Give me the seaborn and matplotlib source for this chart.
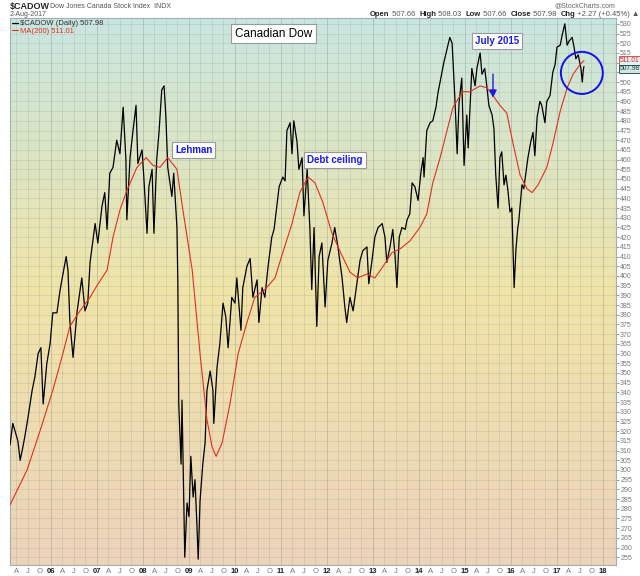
import numpy as np
import pandas as pd
import seaborn as sns
import matplotlib.pyplot as plt
import matplotlib.dates as mdates
from matplotlib.colors import LinearSegmentedColormap
from matplotlib.patches import Ellipse

# $CADOW daily close (decimal year, index level)
price_t = [2005.11, 2005.17, 2005.28, 2005.33, 2005.39, 2005.43, 2005.50, 2005.59, 2005.65, 2005.72,
           2005.78, 2005.83, 2005.91, 2005.98, 2006.04, 2006.13, 2006.20, 2006.33, 2006.37, 2006.41,
           2006.48, 2006.57, 2006.67, 2006.74, 2006.80, 2006.85, 2006.96, 2007.02, 2007.11, 2007.17,
           2007.22, 2007.28, 2007.35, 2007.43, 2007.50, 2007.57, 2007.63, 2007.65, 2007.72, 2007.78,
           2007.85, 2007.89, 2007.98, 2008.02, 2008.09, 2008.13, 2008.20, 2008.24, 2008.30, 2008.35,
           2008.41, 2008.46, 2008.50, 2008.54, 2008.63, 2008.67, 2008.74, 2008.76, 2008.78, 2008.83,
           2008.85, 2008.87, 2008.91, 2008.96, 2009.00, 2009.04, 2009.09, 2009.13, 2009.17, 2009.20,
           2009.24, 2009.30, 2009.35, 2009.39, 2009.46, 2009.52, 2009.54, 2009.61, 2009.67, 2009.74,
           2009.80, 2009.85, 2009.93, 2010.00, 2010.04, 2010.13, 2010.17, 2010.26, 2010.33, 2010.39,
           2010.48, 2010.52, 2010.59, 2010.65, 2010.72, 2010.80, 2010.85, 2010.91, 2010.96, 2011.04,
           2011.09, 2011.13, 2011.20, 2011.24, 2011.28, 2011.35, 2011.39, 2011.46, 2011.50, 2011.57,
           2011.63, 2011.67, 2011.72, 2011.78, 2011.83, 2011.89, 2011.96, 2012.02, 2012.11, 2012.17,
           2012.24, 2012.33, 2012.39, 2012.43, 2012.50, 2012.57, 2012.65, 2012.72, 2012.78, 2012.87,
           2012.91, 2012.98, 2013.04, 2013.11, 2013.20, 2013.26, 2013.30, 2013.37, 2013.43, 2013.48,
           2013.52, 2013.57, 2013.63, 2013.70, 2013.74, 2013.80, 2013.85, 2013.91, 2013.98, 2014.04,
           2014.09, 2014.11, 2014.17, 2014.24, 2014.30, 2014.37, 2014.41, 2014.50, 2014.54, 2014.61,
           2014.67, 2014.72, 2014.76, 2014.78, 2014.83, 2014.87, 2014.93, 2014.98, 2015.04, 2015.07,
           2015.15, 2015.22, 2015.26, 2015.33, 2015.37, 2015.43, 2015.48, 2015.52, 2015.59, 2015.63,
           2015.67, 2015.72, 2015.76, 2015.80, 2015.85, 2015.89, 2015.93, 2015.98, 2016.02, 2016.04,
           2016.07, 2016.11, 2016.15, 2016.17, 2016.24, 2016.28, 2016.33, 2016.37, 2016.43, 2016.48,
           2016.52, 2016.57, 2016.63, 2016.67, 2016.74, 2016.78, 2016.85, 2016.91, 2016.96, 2017.00,
           2017.07, 2017.11, 2017.17, 2017.22, 2017.26, 2017.33, 2017.37, 2017.41, 2017.46, 2017.52,
           2017.55, 2017.57, 2017.585]
price_v = [313, 324, 315, 305, 312, 317, 327, 341, 348, 360,
           363, 334, 355, 365, 381, 381, 393, 410, 403, 377,
           358, 382, 399, 382, 386, 407, 427, 417, 436, 443,
           424, 453, 456, 470, 463, 487, 460, 429, 461, 474,
           488, 458, 465, 451, 422, 446, 455, 422, 460, 474,
           496, 498, 482, 456, 441, 453, 425, 396, 334, 303,
           336, 308, 255, 283, 276, 307, 286, 295, 273, 254,
           284, 303, 314, 341, 351, 341, 324, 353, 365, 386,
           379, 363, 389, 386, 399, 372, 394, 405, 409, 389,
           398, 376, 394, 389, 405, 420, 424, 436, 446, 451,
           449, 475, 479, 463, 480, 469, 455, 461, 431, 455,
           424, 393, 425, 374, 410, 417, 384, 408, 417, 425,
           415, 399, 384, 376, 389, 382, 396, 408, 413, 415,
           396, 408, 420, 425, 427, 420, 407, 415, 424, 410,
           394, 420, 425, 424, 429, 432, 448, 446, 439, 453,
           461, 451, 475, 479, 480, 487, 494, 505, 510, 517,
           523, 520, 501, 492, 463, 489, 502, 457, 483, 466,
           507, 498, 507, 515, 504, 507, 497, 488, 483, 476,
           452, 435, 461, 464, 447, 452, 445, 433, 435, 418,
           394, 414, 425, 428, 447, 445, 454, 461, 469, 474,
           462, 482, 490, 488, 479, 490, 493, 505, 509, 518,
           519, 524, 530, 519, 521, 523, 518, 512, 514, 507,
           500, 506, 507.98]

# 200-day moving average
ma_t = [2005.11, 2005.48, 2005.76, 2006.04, 2006.26, 2006.41, 2006.63, 2006.85, 2007.00, 2007.22,
        2007.35, 2007.50, 2007.65, 2007.87, 2008.07, 2008.22, 2008.37, 2008.54, 2008.74, 2008.87,
        2009.07, 2009.24, 2009.39, 2009.50, 2009.59, 2009.72, 2009.89, 2010.07, 2010.26, 2010.43,
        2010.65, 2010.87, 2011.04, 2011.24, 2011.41, 2011.59, 2011.74, 2011.91, 2012.11, 2012.28,
        2012.50, 2012.67, 2012.87, 2013.04, 2013.22, 2013.41, 2013.59, 2013.80, 2014.02, 2014.17,
        2014.30, 2014.46, 2014.61, 2014.74, 2014.87, 2014.96, 2015.11, 2015.33, 2015.48, 2015.61,
        2015.76, 2015.91, 2016.04, 2016.20, 2016.35, 2016.46, 2016.59, 2016.78, 2016.91, 2017.07,
        2017.22, 2017.35, 2017.50, 2017.585]
ma_v = [282, 300, 320, 341, 360, 374, 382, 389, 395, 403,
        420, 434, 444, 456, 461, 457, 456, 461, 455, 434,
        403, 360, 326, 312, 307, 314, 334, 360, 376, 389,
        393, 399, 412, 427, 443, 451, 448, 438, 422, 413,
        402, 399, 401, 399, 405, 412, 414, 418, 425, 432,
        448, 461, 475, 487, 492, 495, 495, 498, 497, 493,
        488, 484, 469, 452, 445, 443, 447, 456, 468, 485,
        497, 504, 509, 511.01]

notes = ["Lehman", "Debt ceiling", "July 2015"]
note_t = [2008.70, 2011.57, 2015.22]
note_v = [465, 460, 521]


def to_date(y):
    y0 = int(y)
    return pd.Timestamp(y0, 1, 1) + pd.Timedelta(days=(y - y0) * 365.25)


df = pd.DataFrame({"date": [to_date(t) for t in price_t], "close": price_v})
ma = pd.DataFrame({"date": [to_date(t) for t in ma_t], "ma": ma_v})

sns.set_style("white")
plt.rcParams["font.family"] = ["Liberation Sans", "DejaVu Sans"]

fig = plt.figure(figsize=(6.4, 5.76), dpi=100)
ax = fig.add_axes([10 / 640, 1 - 565 / 576, 606 / 640, 547 / 576])

# background gradient teal -> yellow -> peach
cmap = LinearSegmentedColormap.from_list("bg", [(0, "#c9e6e0"), (0.5, "#f0e4a8"), (1, "#ecd3bb")])
grad = np.linspace(0, 1, 256).reshape(-1, 1)
ax.imshow(grad, extent=[0, 1, 0, 1], transform=ax.transAxes, aspect="auto", cmap=cmap, zorder=0)

sns.lineplot(data=df, x="date", y="close", ax=ax, color="black", lw=0.9,
             label="\\$CADOW (Daily) 507.98", zorder=3)
sns.lineplot(data=ma, x="date", y="ma", ax=ax, color="#e03020", lw=0.8,
             label="MA(200) 511.01", zorder=4)

ax.set_xlim(to_date(2005.109), to_date(2018.283))
ax.set_ylim(251, 533)
ax.set_xlabel("")
ax.set_ylabel("")

# quarterly x ticks
qs = pd.date_range("2005-04-01", "2018-01-01", freq="QS")
labels = [d.strftime("%y") if d.month == 1 else {4: "A", 7: "J", 10: "O"}[d.month] for d in qs]
ax.set_xticks(qs)
ax.set_xticklabels(labels)
for d, lab in zip(qs, ax.get_xticklabels()):
    if d.month == 1:
        lab.set_fontweight("bold")
        lab.set_color("#222222")
    else:
        lab.set_color("#777777")
ax.tick_params(axis="x", labelsize=5.5, length=0, pad=2)

# right price scale; 505 and 510 sit under the last-value tags
yt = np.arange(255, 531, 5)
ax.yaxis.tick_right()
ax.set_yticks(yt)
ax.set_yticklabels(["" if v in (505, 510) else str(v) for v in yt])
ax.tick_params(axis="y", labelsize=5, length=2, pad=1, colors="#777777", width=0.5)

for v in yt:
    ax.axhline(v, color="#7a8a80", alpha=0.2, lw=0.6, zorder=1)
for d in qs:
    ax.axvline(d, color="#7a8a80", alpha=0.4 if d.month == 1 else 0.2, lw=0.6, zorder=1)

for s in ax.spines.values():
    s.set_color("#a0b0b0")
    s.set_linewidth(0.8)

leg = ax.legend(loc="upper left", frameon=False, fontsize=5.5, handlelength=0.8,
                handletextpad=0.3, labelspacing=0.05, borderaxespad=0.15, borderpad=0.1)
leg.get_texts()[0].set_color("#333333")
leg.get_texts()[1].set_color("#e03020")

# annotations
ax.text(to_date(2010.0), 525, "Canadian Dow", fontsize=8.5, color="black", va="center", ha="left",
        bbox=dict(boxstyle="square,pad=0.3", fc="white", ec="#999999", lw=0.8), zorder=6)
for txt, t, v in zip(notes, note_t, note_v):
    ax.text(to_date(t), v, txt, fontsize=7, fontweight="bold", color="#1a1aee", va="center", ha="left",
            bbox=dict(boxstyle="square,pad=0.3", fc="white", ec="#999999", lw=0.8), zorder=6)

ax.annotate("", xy=(to_date(2015.61), 490.5), xytext=(to_date(2015.61), 505.5),
            arrowprops=dict(arrowstyle="-|>", color="#1a1aee", lw=1.0, mutation_scale=11), zorder=6)

circ_c = mdates.date2num(to_date(2017.54))
ax.add_patch(Ellipse((circ_c, 504.7), width=333, height=21.7, fill=False, ec="#1010ee", lw=1.4, zorder=6))

# last value tags on the right
ytr = ax.get_yaxis_transform()
ax.text(1.006, 511.1, "511.01", transform=ytr, fontsize=4.8, color="#cc3030", va="center", ha="left",
        bbox=dict(boxstyle="square,pad=0.08", fc="#e4f2ef", ec="#e05050", lw=0.7), clip_on=False)
ax.text(1.006, 506.8, "507.98", transform=ytr, fontsize=4.8, color="#224444", va="center", ha="left",
        bbox=dict(boxstyle="square,pad=0.08", fc="#cfe6e2", ec="#335555", lw=0.7), clip_on=False)

# header
fig.text(10 / 640, 1 - 7 / 576, "\\$CADOW", fontsize=6.5, fontweight="bold", va="center", ha="left")
fig.text(50 / 640, 1 - 7 / 576, "Dow Jones Canada Stock Index  INDX", fontsize=5, color="#555555",
         va="center", ha="left")
fig.text(10 / 640, 1 - 14.5 / 576, "2-Aug-2017", fontsize=5, color="#555555", va="center", ha="left")
fig.text(615 / 640, 1 - 6 / 576, "@StockCharts.com", fontsize=5, color="#666666", va="center", ha="right")

parts = [("Open", "bold"), (" 507.66  ", "normal"), ("High", "bold"), (" 508.03  ", "normal"),
         ("Low", "bold"), (" 507.66  ", "normal"), ("Close", "bold"), (" 507.98  ", "normal"),
         ("Chg", "bold"), (" +2.27 (+0.45%) \u25b2", "normal")]
prev = fig.text(370 / 640, 1 - 14.5 / 576, parts[0][0], fontsize=5.5, fontweight="bold",
                va="center", ha="left", color="#222222")
for txt, w in parts[1:]:
    prev = plt.annotate(txt, xy=(1, 0), xycoords=prev, fontsize=5.5, fontweight=w,
                        va="bottom", ha="left", annotation_clip=False,
                        color="#222222" if w == "bold" else "#555555")

fig.savefig("out.png", dpi=100)
